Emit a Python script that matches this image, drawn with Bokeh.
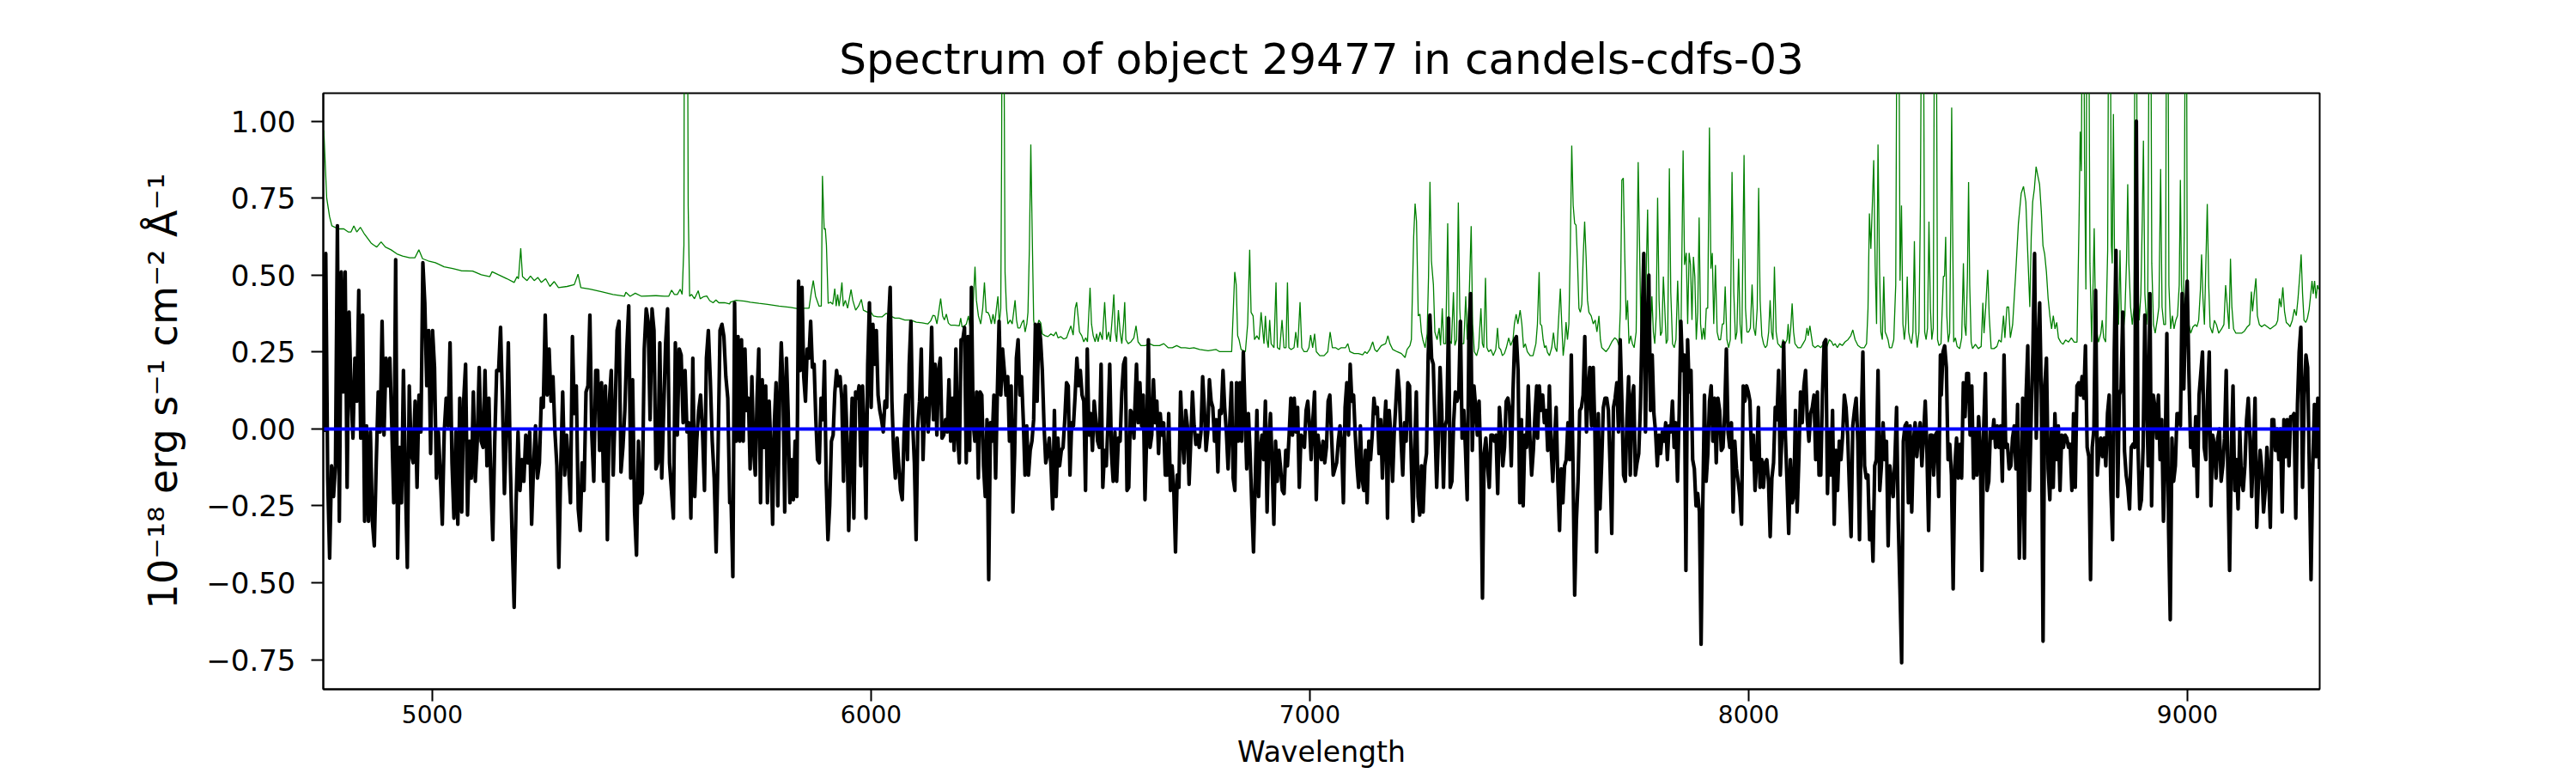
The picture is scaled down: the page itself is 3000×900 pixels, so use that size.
import numpy as np
from bokeh.plotting import figure
from bokeh.models import Range1d, FixedTicker, CustomJSTickFormatter
from bokeh.embed import file_html
from bokeh.resources import INLINE

TITLE = "Spectrum of object 29477 in candels-cdfs-03"
X_LABEL = "Wavelength"
Y_LABEL = "10\u207b\u00b9\u2078 erg s\u207b\u00b9 cm\u207b\u00b2 \u00c5\u207b\u00b9"
X_TICKS = [5000, 6000, 7000, 8000, 9000]
Y_TICKS = [-0.75, -0.5, -0.25, 0.0, 0.25, 0.5, 0.75, 1.0]
X_LIMITS = (4751.5, 9301.4)
Y_LIMITS = (-0.846, 1.091)

# Object flux (black), read in five consecutive wavelength stretches
SEG_A = (4752.7, 5677.8)
FLUX_A = [-0.01, 0.57, -0.16, -0.42, -0.12, -0.22, -0.12, 0.66, -0.30, 0.51, 0.12, 0.51, -0.19, 0.38, 0.12, -0.03, 0.23, 0.09, 0.45, -0.03,
          0.37, -0.30, 0.01, -0.30, -0.01, -0.30, -0.38, -0.11, 0.12, -0.01, 0.35, -0.02, 0.23, 0.14, 0.23, 0.01, -0.24, 0.55, -0.42, -0.06,
          -0.24, 0.19, -0.16, -0.45, 0.14, -0.08, -0.11, 0.09, -0.19, 0.11, -0.01, 0.54, 0.41, 0.14, 0.32, -0.08, 0.32, 0.20, -0.16, -0.01,
          -0.15, -0.31, -0.01, 0.10, 0.01, 0.28, -0.11, -0.29, -0.01, -0.31, 0.10, -0.27, 0.09, 0.21, -0.28, -0.04, -0.16, 0.12, -0.17, -0.04,
          0.20, -0.04, -0.06, 0.19, -0.12, 0.10, -0.17, -0.36, -0.04, 0.19, 0.19, 0.33, 0.09, -0.21, -0.01, 0.28, -0.11, -0.36, -0.58, -0.24,
          -0.01, -0.20, -0.10, -0.17, -0.02, -0.11, -0.01, -0.31, -0.12, 0.01, -0.16, -0.11, 0.10, 0.07, 0.37, 0.11, 0.26, 0.09, 0.17, -0.01,
          -0.12, -0.45, -0.12, 0.12, -0.15, -0.02, -0.12, -0.24, 0.30, 0.05, 0.14, -0.26, -0.33, -0.11, -0.20, 0.12, 0.14, 0.37, -0.02, -0.17,
          0.19, 0.19, -0.07, 0.15, -0.17, 0.14, -0.36, 0.09, 0.19, -0.15, 0.06, 0.32, 0.35, -0.14, -0.06, 0.06, 0.26, 0.40, -0.16, 0.16,
          -0.27, -0.41, -0.04, -0.24, -0.21, 0.26, 0.39, 0.35, 0.03, 0.39, 0.32, -0.13, -0.11, 0.28, -0.16, 0.06, 0.28, 0.39, -0.11, -0.20,
          -0.29, 0.28, -0.02, 0.26, 0.24, 0.02, 0.19, -0.01, 0.02, -0.29, 0.23, -0.22, -0.04, 0.06, 0.11, -0.01, -0.20, 0.23, 0.32, 0.16,
          -0.04, -0.16, -0.40, -0.07, 0.32, 0.34, 0.30, 0.17, 0.10, -0.24]
SEG_B = (5681.0, 6599.0)
FLUX_B = [-0.24, -0.48, 0.41, -0.04, 0.30, -0.04, 0.29, -0.04, 0.26, 0.06, 0.10, -0.13, 0.17, -0.07, -0.15, 0.10, 0.26, -0.24, 0.16, -0.06,
          0.14, -0.24, 0.09, -0.07, -0.31, 0.02, 0.15, -0.25, 0.09, 0.28, 0.14, -0.27, 0.23, 0.05, -0.24, -0.10, -0.23, -0.04, -0.22, 0.48,
          0.19, 0.46, 0.17, 0.09, 0.26, 0.23, 0.35, 0.20, 0.21, 0.03, -0.10, -0.11, 0.10, 0.03, 0.22, -0.17, -0.36, -0.25, -0.04, -0.02,
          0.12, 0.19, 0.14, 0.17, 0.10, -0.17, 0.14, -0.02, -0.33, -0.08, 0.10, -0.29, 0.12, 0.10, 0.14, -0.12, 0.14, -0.01, -0.29, 0.21,
          0.41, 0.07, 0.34, 0.21, 0.32, 0.11, 0.06, 0.03, -0.01, 0.09, 0.07, 0.34, 0.46, 0.09, -0.07, -0.16, -0.03, -0.12, -0.20, -0.23,
          -0.02, 0.11, -0.10, 0.21, 0.35, 0.02, -0.11, -0.36, 0.01, 0.09, 0.26, -0.10, 0.09, 0.10, -0.01, 0.11, 0.33, 0.03, 0.21, -0.02,
          0.19, 0.23, -0.03, -0.02, 0.03, -0.01, 0.16, -0.04, 0.10, -0.07, 0.26, -0.02, -0.11, 0.29, 0.29, 0.33, -0.11, 0.30, -0.07, 0.46,
          0.02, -0.04, 0.12, -0.16, 0.12, 0.11, -0.12, -0.22, 0.03, -0.49, 0.02, -0.04, 0.11, -0.16, 0.12, 0.35, 0.11, 0.26, 0.19, 0.11,
          0.17, -0.04, 0.14, -0.27, -0.08, 0.23, 0.29, 0.11, 0.17, 0.03, -0.15, 0.01, -0.15, -0.07, -0.04, 0.03, 0.34, 0.09, 0.34, 0.29,
          0.19, 0.01, -0.11, -0.08, -0.03, -0.12, -0.26, 0.06, -0.22, -0.03, -0.12, -0.07, -0.06, 0.03, 0.15, 0.14, -0.15, 0.02, 0.01, 0.11,
          0.23, 0.14, 0.19, 0.11, 0.09, -0.20, 0.26, -0.02, 0.05, -0.07, 0.09, 0.03, -0.04, -0.06, 0.21, -0.19, -0.07, -0.12, 0.02, 0.21,
          -0.08, -0.17, -0.01, -0.17, -0.03, -0.04, 0.12, 0.21, 0.23, -0.20, -0.19, 0.06, 0.05, -0.03]
SEG_C = (6601.0, 7517.0)
FLUX_C = [0.06, 0.21, 0.02, 0.15, 0.01, 0.11, -0.23, -0.02, 0.29, -0.06, -0.02, 0.16, 0.02, 0.09, -0.08, 0.05, -0.02, 0.02, -0.15, -0.15,
          0.05, -0.20, -0.12, -0.20, -0.40, -0.15, -0.19, 0.12, -0.02, -0.11, 0.06, 0.01, -0.18, -0.04, 0.12, 0.01, -0.05, -0.02, -0.06, -0.01,
          0.17, 0.07, -0.07, -0.01, 0.16, 0.09, 0.07, -0.04, 0.03, -0.14, 0.06, 0.05, 0.19, 0.07, -0.01, -0.13, 0.02, 0.15, -0.16, -0.20,
          0.15, -0.04, 0.15, -0.04, 0.25, 0.05, -0.13, 0.05, -0.08, -0.25, -0.40, -0.17, 0.06, -0.22, -0.07, -0.02, -0.10, 0.09, -0.27, -0.04,
          0.05, -0.12, -0.31, -0.04, -0.17, -0.07, -0.13, -0.20, -0.21, -0.07, -0.12, -0.02, 0.10, -0.02, 0.10, -0.01, 0.07, -0.19, -0.02, -0.03,
          -0.06, 0.06, 0.09, 0.01, -0.10, 0.03, 0.12, -0.23, -0.02, -0.07, -0.10, -0.04, -0.11, -0.06, 0.09, 0.11, -0.02, -0.15, -0.13, -0.11,
          -0.04, 0.01, -0.06, -0.24, 0.07, 0.15, -0.02, 0.21, 0.09, 0.11, -0.02, -0.12, -0.19, 0.01, -0.16, -0.20, -0.07, -0.24, -0.04, -0.10,
          -0.02, 0.10, 0.05, 0.07, -0.08, 0.03, -0.16, -0.01, 0.09, -0.29, 0.06, -0.02, -0.17, -0.01, 0.09, 0.19, 0.12, -0.04, -0.15, 0.02,
          -0.04, 0.15, 0.14, -0.10, -0.30, -0.07, 0.12, -0.22, -0.28, -0.12, -0.27, -0.12, -0.08, 0.24, 0.37, 0.23, 0.21, 0.01, -0.19, -0.03,
          0.20, 0.06, -0.19, 0.01, 0.03, 0.36, -0.19, -0.17, 0.02, 0.12, 0.09, 0.11, 0.35, -0.03, 0.06, -0.07, -0.23, 0.29, 0.44, -0.07,
          0.14, 0.07, -0.02, 0.09, -0.10, -0.55, -0.08, -0.03, -0.12, -0.19, -0.02, -0.02, -0.04, -0.02, -0.21, 0.07, -0.01, -0.12, -0.06, 0.09,
          0.10, 0.06, -0.12, 0.12, 0.29, 0.30, 0.19, -0.24, 0.03, -0.25, -0.02, -0.06, 0.14, -0.03, -0.15, -0.07, 0.05, 0.14]
SEG_D = (7519.0, 8437.0)
FLUX_D = [-0.03, 0.14, 0.06, 0.11, 0.02, 0.06, -0.07, 0.14, -0.06, -0.17, -0.04, 0.07, -0.17, -0.33, -0.13, -0.24, -0.12, -0.10, 0.02, -0.10,
          0.24, -0.12, -0.54, -0.30, -0.17, 0.06, 0.07, 0.11, 0.30, -0.01, 0.12, 0.20, 0.01, 0.20, -0.01, -0.40, 0.05, -0.26, -0.11, 0.07,
          0.10, 0.10, 0.06, -0.12, -0.34, 0.07, 0.10, 0.15, -0.01, 0.29, 0.09, -0.15, -0.17, 0.03, 0.17, -0.15, 0.10, 0.14, -0.15, -0.11,
          -0.08, 0.07, 0.34, 0.57, -0.01, 0.34, 0.50, 0.06, 0.24, 0.05, -0.01, -0.12, -0.02, -0.08, -0.01, -0.04, 0.02, -0.10, 0.01, -0.01,
          0.09, -0.06, 0.02, -0.17, 0.05, 0.35, 0.19, 0.24, -0.46, 0.29, 0.12, 0.19, -0.10, -0.13, -0.25, -0.21, -0.27, -0.70, -0.25, 0.11,
          -0.17, -0.08, 0.09, 0.14, -0.04, 0.10, -0.11, 0.10, 0.06, -0.07, -0.06, 0.05, 0.26, -0.01, -0.06, 0.02, -0.27, -0.04, -0.13, -0.17,
          -0.22, -0.31, 0.14, 0.09, 0.14, 0.12, 0.09, -0.10, -0.02, -0.20, -0.11, 0.07, -0.19, -0.10, -0.19, -0.11, -0.10, -0.17, -0.35, -0.16,
          -0.11, 0.07, 0.03, 0.19, -0.15, -0.02, 0.28, -0.02, -0.17, -0.34, -0.10, -0.24, -0.22, 0.06, -0.27, -0.10, 0.12, 0.02, 0.14, 0.19,
          0.03, -0.04, 0.05, 0.07, 0.11, -0.10, 0.12, -0.15, -0.15, 0.11, 0.28, 0.29, -0.21, -0.01, -0.15, 0.06, -0.31, -0.07, -0.20, -0.04,
          -0.10, -0.02, 0.11, 0.07, -0.02, -0.19, -0.35, 0.01, 0.06, 0.10, -0.04, -0.36, 0.01, 0.25, -0.12, -0.16, -0.15, -0.36, -0.27, -0.43,
          -0.12, -0.10, 0.19, -0.20, -0.12, 0.02, -0.10, -0.04, -0.38, -0.12, -0.17, -0.22, -0.10, 0.07, -0.30, -0.52, -0.76, -0.04, 0.01, 0.02,
          -0.24, 0.01, -0.27, -0.04, 0.02, -0.09, -0.02, 0.02, -0.12, -0.02, 0.09, -0.07, -0.33, -0.02, -0.02, -0.15, -0.02, -0.01, -0.22, 0.24]
SEG_E = (8439.0, 9301.0)
FLUX_E = [0.11, 0.25, 0.27, 0.20, -0.10, -0.05, -0.15, -0.52, -0.12, -0.03, -0.16, -0.05, -0.16, 0.15, 0.04, 0.18, 0.18, -0.02, 0.14, -0.16,
          0.00, -0.15, 0.04, -0.06, -0.46, 0.00, 0.18, -0.20, -0.17, 0.00, -0.03, 0.03, -0.06, 0.01, -0.06, 0.01, -0.17, 0.24, -0.06, -0.05,
          -0.13, -0.12, -0.03, 0.01, -0.13, 0.08, -0.42, -0.19, 0.10, -0.42, 0.11, 0.27, -0.20, 0.04, 0.25, 0.57, -0.03, 0.23, 0.41, 0.11,
          -0.69, 0.14, 0.23, -0.13, -0.23, 0.00, -0.19, 0.05, -0.10, 0.01, -0.20, -0.02, -0.06, -0.02, -0.03, -0.06, -0.05, -0.20, 0.05, -0.19,
          0.14, 0.15, 0.11, 0.17, 0.10, 0.27, -0.06, -0.09, -0.49, -0.06, 0.00, 0.45, -0.15, -0.07, -0.03, -0.09, -0.03, -0.12, 0.05, 0.11,
          -0.20, -0.36, 0.25, 0.58, -0.22, 0.11, 0.13, 0.38, -0.07, -0.15, -0.19, -0.26, -0.06, -0.05, -0.06, 1.00, -0.06, -0.26, -0.23, -0.06,
          0.37, 0.11, -0.12, 0.44, -0.25, 0.11, 0.07, -0.03, 0.11, -0.10, 0.03, -0.30, -0.09, 0.31, -0.32, -0.62, -0.03, -0.17, -0.12, 0.05,
          0.05, 0.01, 0.44, 0.13, 0.38, 0.48, 0.18, -0.06, 0.00, -0.12, 0.04, -0.22, 0.11, 0.18, 0.25, -0.06, -0.10, 0.11, 0.25, -0.25,
          -0.02, -0.05, -0.16, -0.03, 0.00, -0.17, -0.12, -0.03, 0.19, -0.16, -0.46, -0.07, 0.14, -0.20, -0.10, -0.26, 0.00, -0.17, -0.20, -0.12,
          0.03, 0.10, -0.03, -0.22, -0.07, 0.10, -0.32, -0.17, -0.07, -0.13, -0.27, -0.20, -0.06, -0.15, -0.32, 0.03, 0.03, -0.07, 0.00, -0.10,
          0.00, -0.27, 0.03, -0.09, 0.03, -0.12, 0.04, 0.04, 0.05, -0.29, 0.08, 0.25, 0.33, -0.19, 0.11, 0.24, 0.20, -0.13, -0.49, -0.13,
          0.08, -0.09, 0.10, -0.13]

# Noise / sky spectrum (green): (wavelength, value) vertices; 1.6 = line running off the top
NOISE_A = [(4752.7, 0.97), (4759.3, 0.75), (4765.8, 0.69), (4771.0, 0.66), (4785.4, 0.65), (4798.4, 0.65), (4808.2, 0.64),
           (4814.7, 0.64), (4821.2, 0.66), (4827.8, 0.64), (4836.2, 0.655), (4844.1, 0.636), (4853.9, 0.617), (4860.4, 0.604),
           (4866.9, 0.597), (4873.4, 0.591), (4883.2, 0.608), (4893.0, 0.591), (4906.0, 0.582), (4919.1, 0.569), (4932.1, 0.562),
           (4948.4, 0.556), (4960.2, 0.556), (4969.3, 0.582), (4977.8, 0.553), (4990.8, 0.546), (5007.1, 0.540), (5026.7, 0.527),
           (5046.3, 0.521), (5065.9, 0.514), (5091.9, 0.513), (5111.5, 0.501), (5131.1, 0.495), (5136.3, 0.511), (5150.7, 0.501),
           (5170.2, 0.488), (5186.5, 0.476), (5193.1, 0.495), (5196.3, 0.488), (5201.5, 0.587), (5205.5, 0.495), (5215.9, 0.482),
           (5223.7, 0.497), (5232.2, 0.482), (5240.7, 0.492), (5248.5, 0.476), (5258.3, 0.488), (5268.1, 0.463), (5277.8, 0.479),
           (5287.6, 0.459), (5307.2, 0.463), (5323.5, 0.469), (5332.0, 0.503), (5338.5, 0.459), (5359.4, 0.454), (5385.5, 0.446),
           (5411.6, 0.437), (5437.7, 0.431), (5441.0, 0.444), (5450.7, 0.431), (5462.5, 0.441), (5476.8, 0.431), (5509.4, 0.433),
           (5529.0, 0.431), (5538.8, 0.431), (5545.3, 0.451), (5551.8, 0.437), (5558.4, 0.437), (5564.9, 0.454), (5569.4, 0.437),
           (5573.4, 0.597), (5574.6, 1.6), (5577.9, 1.6), (5581.2, 1.6), (5583.1, 0.726), (5586.4, 0.431), (5590.9, 0.437),
           (5597.5, 0.423), (5606.0, 0.449), (5610.5, 0.423), (5617.1, 0.429), (5625.5, 0.432), (5632.1, 0.417), (5639.9, 0.410),
           (5646.4, 0.419), (5653.0, 0.410), (5666.0, 0.410), (5677.7, 0.406)]
NOISE_B = [(5679.1, 0.412), (5692.1, 0.418), (5711.7, 0.415), (5724.7, 0.412), (5744.3, 0.408), (5763.9, 0.405), (5790.0, 0.399),
           (5816.1, 0.395), (5835.6, 0.390), (5848.7, 0.392), (5858.5, 0.392), (5863.7, 0.444), (5868.2, 0.482), (5873.5, 0.431),
           (5881.3, 0.399), (5886.5, 0.399), (5889.1, 0.822), (5893.0, 0.649), (5895.6, 0.651), (5898.2, 0.597), (5902.2, 0.408),
           (5907.4, 0.412), (5912.6, 0.405), (5917.2, 0.456), (5920.4, 0.399), (5923.7, 0.437), (5927.0, 0.399), (5930.2, 0.431),
           (5933.5, 0.476), (5936.7, 0.399), (5941.3, 0.418), (5946.5, 0.392), (5954.3, 0.453), (5958.3, 0.418), (5964.8, 0.386),
           (5971.3, 0.399), (5977.8, 0.421), (5982.4, 0.386), (5992.2, 0.379), (5998.7, 0.382), (6005.2, 0.367), (6015.0, 0.364),
           (6024.8, 0.364), (6034.6, 0.376), (6044.4, 0.367), (6054.1, 0.360), (6063.9, 0.360), (6077.0, 0.354), (6090.0, 0.354),
           (6103.1, 0.347), (6116.1, 0.345), (6129.2, 0.341), (6135.7, 0.351), (6140.9, 0.369), (6145.5, 0.367), (6150.0, 0.341),
           (6154.0, 0.379), (6158.5, 0.424), (6163.1, 0.367), (6167.0, 0.354), (6171.5, 0.373), (6176.1, 0.344), (6181.3, 0.337),
           (6191.1, 0.337), (6200.9, 0.335), (6204.2, 0.360), (6207.4, 0.331), (6212.7, 0.335), (6217.2, 0.341), (6221.8, 0.367),
           (6225.7, 0.328), (6230.3, 0.347), (6233.5, 0.431), (6236.8, 0.527), (6240.0, 0.418), (6244.6, 0.367), (6249.8, 0.341),
           (6254.4, 0.392), (6258.3, 0.476), (6262.2, 0.379), (6266.1, 0.379), (6270.1, 0.367), (6274.0, 0.341), (6277.9, 0.373),
           (6281.8, 0.341), (6285.7, 0.392), (6289.0, 0.431), (6292.2, 0.341), (6295.5, 0.392), (6297.5, 0.9), (6298.8, 1.6),
           (6302.0, 1.6), (6304.0, 0.9), (6305.3, 0.508), (6308.5, 0.392), (6311.8, 0.341), (6317.0, 0.354), (6321.6, 0.341),
           (6324.8, 0.379), (6328.1, 0.418), (6331.4, 0.354), (6334.6, 0.328), (6339.2, 0.328), (6344.4, 0.347), (6347.7, 0.354),
           (6350.9, 0.315), (6354.9, 0.341), (6357.5, 0.379), (6360.7, 0.585), (6364.0, 0.924), (6367.3, 0.623), (6370.5, 0.354),
           (6373.8, 0.315), (6377.0, 0.322), (6382.3, 0.354), (6386.8, 0.344), (6390.1, 0.309), (6396.6, 0.303), (6403.1, 0.300),
           (6409.7, 0.309), (6416.2, 0.303), (6421.4, 0.315), (6426.0, 0.296), (6432.5, 0.300), (6439.0, 0.292), (6445.5, 0.296),
           (6450.1, 0.315), (6455.3, 0.335), (6460.5, 0.305), (6465.1, 0.392), (6468.4, 0.412), (6471.6, 0.367), (6474.9, 0.315),
           (6480.1, 0.303), (6484.7, 0.283), (6489.2, 0.296), (6493.1, 0.283), (6499.0, 0.459), (6502.3, 0.341), (6506.2, 0.303),
           (6510.7, 0.283), (6514.0, 0.309), (6517.3, 0.283), (6521.8, 0.315), (6527.1, 0.290), (6532.3, 0.412), (6536.8, 0.290),
           (6541.4, 0.315), (6545.3, 0.283), (6549.2, 0.354), (6553.2, 0.437), (6556.4, 0.315), (6559.7, 0.283), (6563.6, 0.386),
           (6567.5, 0.315), (6571.4, 0.277), (6575.3, 0.341), (6578.0, 0.412), (6580.6, 0.290), (6585.8, 0.277), (6592.3, 0.283),
           (6598.8, 0.296)]
NOISE_C = [(6603.8, 0.335), (6608.4, 0.283), (6614.9, 0.271), (6624.7, 0.271), (6634.4, 0.277), (6644.2, 0.271), (6657.3, 0.271),
           (6667.1, 0.277), (6676.8, 0.264), (6686.6, 0.264), (6696.4, 0.271), (6706.2, 0.264), (6716.0, 0.264), (6725.8, 0.262),
           (6735.6, 0.264), (6748.6, 0.258), (6768.2, 0.254), (6786.4, 0.258), (6794.3, 0.251), (6821.7, 0.251), (6825.6, 0.392),
           (6828.8, 0.510), (6832.1, 0.469), (6835.4, 0.303), (6838.6, 0.290), (6843.2, 0.258), (6853.0, 0.251), (6858.2, 0.341),
           (6862.8, 0.582), (6866.0, 0.379), (6870.6, 0.367), (6873.8, 0.290), (6879.1, 0.303), (6884.3, 0.290), (6888.8, 0.379),
           (6892.1, 0.328), (6895.4, 0.277), (6898.6, 0.367), (6901.9, 0.290), (6905.2, 0.264), (6908.4, 0.354), (6911.7, 0.277),
           (6918.2, 0.264), (6922.8, 0.476), (6926.0, 0.264), (6931.2, 0.258), (6936.5, 0.354), (6941.0, 0.264), (6945.6, 0.264),
           (6948.9, 0.476), (6952.1, 0.264), (6957.3, 0.258), (6963.9, 0.264), (6967.8, 0.315), (6972.3, 0.264), (6977.6, 0.412),
           (6981.5, 0.264), (6986.7, 0.251), (6993.2, 0.251), (6997.8, 0.264), (7001.7, 0.305), (7006.3, 0.264), (7010.8, 0.309),
           (7014.7, 0.251), (7022.6, 0.238), (7032.3, 0.238), (7040.8, 0.251), (7046.1, 0.315), (7051.3, 0.264), (7058.4, 0.264),
           (7065.0, 0.258), (7071.5, 0.264), (7081.3, 0.264), (7086.5, 0.277), (7091.1, 0.251), (7100.8, 0.245), (7110.6, 0.245),
           (7120.4, 0.241), (7125.6, 0.251), (7130.2, 0.245), (7136.7, 0.258), (7143.2, 0.283), (7147.8, 0.258), (7153.0, 0.251),
           (7162.8, 0.271), (7172.6, 0.277), (7177.8, 0.303), (7182.4, 0.277), (7188.9, 0.258), (7198.7, 0.251), (7208.5, 0.245),
           (7216.9, 0.232), (7221.5, 0.258), (7228.0, 0.271), (7231.3, 0.290), (7236.5, 0.623), (7239.8, 0.732), (7243.0, 0.674),
           (7247.0, 0.367), (7250.9, 0.373), (7254.1, 0.315), (7257.4, 0.290), (7262.6, 0.264), (7267.2, 0.309), (7270.4, 0.495),
           (7273.7, 0.803), (7277.0, 0.546), (7281.5, 0.469), (7284.8, 0.315), (7290.0, 0.290), (7294.6, 0.328), (7297.8, 0.271),
           (7301.7, 0.392), (7305.0, 0.277), (7309.6, 0.277), (7314.1, 0.668), (7317.4, 0.290), (7322.6, 0.277), (7327.2, 0.444),
           (7330.4, 0.271), (7334.4, 0.290), (7338.3, 0.736), (7341.6, 0.392), (7345.5, 0.277), (7350.7, 0.277), (7355.2, 0.431),
           (7358.5, 0.290), (7363.1, 0.431), (7367.6, 0.659), (7370.9, 0.341), (7374.8, 0.251), (7380.0, 0.238), (7384.6, 0.264),
           (7389.8, 0.392), (7393.1, 0.277), (7396.3, 0.264), (7400.2, 0.491), (7403.5, 0.264), (7407.4, 0.251), (7412.6, 0.258),
           (7417.9, 0.238), (7423.7, 0.258), (7427.6, 0.328), (7430.9, 0.264), (7434.8, 0.258), (7438.7, 0.238), (7443.3, 0.245),
           (7447.8, 0.264), (7453.1, 0.296), (7457.7, 0.271), (7462.9, 0.290), (7466.1, 0.341), (7470.1, 0.373), (7474.0, 0.341),
           (7479.2, 0.386), (7483.1, 0.341), (7487.0, 0.264), (7491.0, 0.277), (7495.5, 0.251), (7502.0, 0.238), (7508.5, 0.238),
           (7515.1, 0.277)]
NOISE_D = [(7518.6, 0.341), (7522.5, 0.510), (7525.1, 0.341), (7528.4, 0.335), (7531.6, 0.290), (7534.9, 0.264), (7538.1, 0.271),
           (7541.4, 0.249), (7546.0, 0.238), (7551.2, 0.264), (7555.1, 0.313), (7559.0, 0.264), (7562.9, 0.251), (7566.8, 0.354),
           (7570.8, 0.456), (7574.0, 0.341), (7577.3, 0.238), (7581.2, 0.290), (7583.8, 0.347), (7587.1, 0.290), (7590.3, 0.341),
           (7593.6, 0.597), (7596.8, 0.921), (7600.1, 0.726), (7603.4, 0.668), (7606.6, 0.662), (7609.9, 0.546), (7613.2, 0.392),
           (7616.4, 0.379), (7619.7, 0.405), (7622.9, 0.559), (7626.2, 0.674), (7629.5, 0.559), (7632.7, 0.418), (7636.0, 0.379),
           (7641.2, 0.367), (7645.8, 0.341), (7650.3, 0.354), (7654.2, 0.315), (7658.8, 0.367), (7662.1, 0.290), (7665.3, 0.264),
           (7669.9, 0.258), (7675.1, 0.251), (7681.6, 0.264), (7688.2, 0.283), (7694.7, 0.296), (7699.9, 0.290), (7704.5, 0.271),
           (7707.7, 0.392), (7711.0, 0.809), (7714.3, 0.815), (7717.5, 0.572), (7720.8, 0.354), (7724.0, 0.418), (7727.3, 0.277),
           (7731.2, 0.303), (7735.1, 0.277), (7739.0, 0.264), (7743.6, 0.315), (7748.2, 0.867), (7751.4, 0.597), (7754.7, 0.290),
           (7758.0, 0.315), (7761.2, 0.277), (7764.5, 0.367), (7769.7, 0.713), (7773.0, 0.392), (7776.2, 0.315), (7779.5, 0.431),
           (7782.8, 0.315), (7786.0, 0.277), (7789.3, 0.367), (7792.5, 0.751), (7795.8, 0.418), (7799.1, 0.303), (7802.3, 0.315),
           (7805.6, 0.495), (7808.8, 0.392), (7812.1, 0.277), (7815.4, 0.290), (7819.3, 0.847), (7822.5, 0.444), (7826.5, 0.277),
           (7830.4, 0.264), (7834.3, 0.290), (7838.2, 0.482), (7842.1, 0.303), (7846.0, 0.341), (7850.6, 0.905), (7853.9, 0.533),
           (7857.8, 0.572), (7861.0, 0.341), (7864.3, 0.572), (7867.5, 0.533), (7870.8, 0.354), (7874.1, 0.559), (7877.3, 0.495),
           (7880.6, 0.290), (7883.9, 0.379), (7887.1, 0.687), (7890.4, 0.341), (7893.6, 0.290), (7896.9, 0.328), (7900.2, 0.290),
           (7903.4, 0.392), (7906.7, 0.392), (7910.6, 0.979), (7913.9, 0.521), (7917.1, 0.572), (7920.4, 0.341), (7924.3, 0.533),
           (7928.2, 0.315), (7932.1, 0.290), (7936.0, 0.290), (7940.0, 0.341), (7943.2, 0.341), (7946.5, 0.463), (7950.4, 0.290),
           (7954.3, 0.264), (7958.2, 0.290), (7962.1, 0.835), (7966.1, 0.444), (7970.0, 0.290), (7973.2, 0.315), (7977.1, 0.553),
           (7980.4, 0.341), (7984.3, 0.277), (7989.5, 0.890), (7992.8, 0.392), (7996.1, 0.315), (8000.0, 0.315), (8003.9, 0.328),
           (8007.8, 0.469), (8011.7, 0.328), (8015.6, 0.303), (8019.5, 0.392), (8022.8, 0.783), (8026.1, 0.418), (8030.0, 0.303),
           (8033.9, 0.277), (8037.8, 0.264), (8041.7, 0.271), (8045.6, 0.315), (8048.9, 0.418), (8052.2, 0.315), (8055.4, 0.290),
           (8058.7, 0.527), (8062.6, 0.315), (8066.5, 0.277), (8070.4, 0.271), (8074.3, 0.264), (8078.2, 0.290), (8082.8, 0.277),
           (8087.4, 0.290), (8090.0, 0.341), (8092.6, 0.277), (8095.9, 0.328), (8099.1, 0.408), (8102.4, 0.315), (8105.6, 0.277),
           (8112.2, 0.264), (8118.7, 0.264), (8123.9, 0.277), (8129.1, 0.290), (8133.0, 0.328), (8135.6, 0.303), (8139.6, 0.335),
           (8142.8, 0.303), (8146.1, 0.271), (8151.3, 0.264), (8157.8, 0.271), (8164.3, 0.264), (8170.9, 0.277), (8177.4, 0.264),
           (8183.9, 0.290), (8189.1, 0.283), (8193.0, 0.271), (8197.0, 0.277), (8202.2, 0.264), (8207.4, 0.277), (8213.3, 0.271),
           (8219.8, 0.283), (8226.3, 0.290), (8232.8, 0.303), (8237.4, 0.322), (8242.6, 0.290), (8249.1, 0.271), (8255.7, 0.264),
           (8263.5, 0.264), (8268.7, 0.277), (8272.0, 0.392), (8275.2, 0.700), (8278.5, 0.585), (8281.8, 0.726), (8285.0, 0.873),
           (8288.3, 0.533), (8291.5, 0.341), (8294.8, 0.924), (8298.1, 0.533), (8301.3, 0.315), (8304.6, 0.290), (8307.9, 0.495),
           (8311.1, 0.315), (8314.4, 0.303), (8317.6, 0.290), (8320.9, 0.264), (8326.1, 0.264), (8330.7, 0.290), (8335.2, 0.469),
           (8338.5, 1.6), (8341.8, 1.6), (8345.0, 0.482), (8348.3, 0.726), (8351.6, 0.341), (8354.8, 0.290), (8358.1, 0.341),
           (8361.4, 0.495), (8364.6, 0.315), (8367.9, 0.290), (8371.1, 0.277), (8374.4, 0.315), (8377.7, 0.610), (8380.9, 0.315),
           (8384.2, 0.264), (8388.1, 0.315), (8391.4, 0.726), (8394.6, 1.6), (8397.9, 1.6), (8401.2, 0.315), (8404.4, 0.290),
           (8407.7, 0.328), (8410.9, 0.674), (8414.2, 0.392), (8417.4, 0.290), (8420.7, 0.328), (8424.0, 1.6), (8427.2, 1.6),
           (8430.5, 0.290), (8433.7, 0.271), (8438.3, 0.277)]
NOISE_E = [(8443.8, 0.496), (8446.4, 0.496), (8449.0, 0.624), (8451.6, 0.368), (8454.9, 0.282), (8458.1, 0.311), (8460.7, 0.681),
           (8462.7, 1.044), (8464.7, 0.681), (8467.3, 0.282), (8471.2, 0.296), (8475.1, 0.268), (8481.0, 0.261), (8485.5, 0.296),
           (8489.4, 0.538), (8492.1, 0.339), (8495.3, 0.303), (8498.6, 0.496), (8501.2, 0.802), (8503.8, 0.467), (8507.1, 0.282),
           (8510.3, 0.261), (8516.8, 0.275), (8523.4, 0.261), (8529.9, 0.268), (8533.8, 0.410), (8536.4, 0.311), (8540.3, 0.396),
           (8544.9, 0.517), (8548.2, 0.368), (8552.7, 0.261), (8559.2, 0.261), (8565.8, 0.268), (8570.3, 0.289), (8575.6, 0.282),
           (8580.8, 0.368), (8584.0, 0.296), (8588.6, 0.396), (8592.5, 0.396), (8596.4, 0.296), (8601.6, 0.339), (8608.2, 0.496),
           (8614.7, 0.667), (8621.2, 0.766), (8626.4, 0.788), (8631.7, 0.738), (8636.2, 0.567), (8640.8, 0.396), (8644.0, 0.624),
           (8647.3, 0.738), (8651.2, 0.781), (8655.1, 0.852), (8659.0, 0.823), (8663.0, 0.795), (8666.9, 0.709), (8670.8, 0.595),
           (8674.7, 0.567), (8678.6, 0.510), (8682.5, 0.424), (8686.4, 0.368), (8690.4, 0.325), (8694.3, 0.368), (8698.2, 0.325),
           (8702.1, 0.346), (8706.0, 0.296), (8711.2, 0.282), (8716.4, 0.275), (8722.3, 0.289), (8728.8, 0.282), (8735.4, 0.296),
           (8741.9, 0.282), (8748.4, 0.282), (8753.0, 0.681), (8755.6, 0.966), (8758.2, 0.838), (8760.8, 1.6), (8763.4, 1.6),
           (8765.4, 0.880), (8768.6, 0.453), (8771.2, 1.6), (8774.5, 1.6), (8777.8, 0.538), (8781.7, 0.282), (8784.9, 0.467),
           (8787.5, 0.652), (8790.8, 0.339), (8797.3, 0.282), (8802.6, 0.311), (8805.8, 0.353), (8809.1, 0.296), (8813.6, 0.282),
           (8818.2, 0.581), (8820.8, 1.6), (8823.4, 1.6), (8826.7, 0.595), (8828.6, 0.538), (8831.3, 1.023), (8833.9, 0.538),
           (8836.5, 0.368), (8839.7, 0.439), (8843.0, 0.339), (8846.3, 0.581), (8849.5, 0.339), (8853.4, 0.311), (8857.3, 0.368),
           (8861.3, 0.553), (8863.9, 0.795), (8866.5, 0.538), (8870.4, 0.396), (8874.3, 0.339), (8878.2, 0.396), (8880.8, 1.6),
           (8883.4, 1.6), (8886.1, 0.481), (8890.0, 0.353), (8893.9, 0.439), (8897.1, 0.681), (8899.7, 0.937), (8903.0, 0.439),
           (8906.9, 0.339), (8909.5, 0.396), (8913.4, 1.6), (8916.1, 1.6), (8918.7, 0.538), (8922.6, 0.339), (8926.5, 0.311),
           (8931.1, 0.353), (8935.0, 0.396), (8938.9, 0.845), (8942.1, 0.396), (8946.1, 0.339), (8950.0, 0.339), (8952.6, 1.6),
           (8955.2, 1.6), (8957.8, 0.467), (8961.7, 0.325), (8965.6, 0.368), (8969.5, 0.325), (8973.5, 0.353), (8977.4, 0.368),
           (8981.3, 0.467), (8983.9, 0.809), (8986.5, 0.467), (8990.4, 0.339), (8993.0, 0.681), (8995.6, 1.6), (8997.6, 1.6),
           (8999.5, 0.467), (9003.5, 0.339), (9007.4, 0.311), (9012.6, 0.332), (9017.8, 0.339), (9021.7, 0.332), (9025.6, 0.353),
           (9029.6, 0.453), (9032.2, 0.567), (9035.4, 0.424), (9038.7, 0.339), (9042.0, 0.538), (9045.2, 0.731), (9048.5, 0.467),
           (9051.7, 0.332), (9057.0, 0.311), (9061.5, 0.353), (9066.1, 0.339), (9071.3, 0.311), (9077.8, 0.325), (9083.1, 0.339),
           (9087.0, 0.467), (9090.9, 0.396), (9094.8, 0.325), (9098.1, 0.553), (9101.3, 0.396), (9105.2, 0.325), (9110.4, 0.311),
           (9117.0, 0.311), (9123.5, 0.311), (9130.0, 0.318), (9136.5, 0.332), (9141.7, 0.339), (9145.7, 0.446), (9148.3, 0.382),
           (9152.2, 0.439), (9156.1, 0.489), (9159.4, 0.368), (9163.9, 0.339), (9169.1, 0.332), (9175.7, 0.339), (9182.2, 0.332),
           (9188.7, 0.325), (9195.2, 0.332), (9201.8, 0.339), (9205.7, 0.353), (9209.6, 0.424), (9213.5, 0.396), (9217.4, 0.460),
           (9221.3, 0.382), (9225.3, 0.346), (9230.5, 0.339), (9233.7, 0.332), (9239.0, 0.353), (9243.6, 0.389), (9248.1, 0.368),
           (9252.0, 0.424), (9256.6, 0.510), (9259.1, 0.567), (9262.4, 0.439), (9265.7, 0.353), (9269.6, 0.346), (9273.5, 0.360),
           (9277.4, 0.389), (9280.0, 0.424), (9283.9, 0.481), (9286.6, 0.439), (9289.8, 0.481), (9293.1, 0.424), (9296.3, 0.467),
           (9299.6, 0.453)]

# Model (blue): flat at zero over the whole range
MODEL_WAVE = [4751.5, 9301.4]
MODEL_FLUX = [0.0, 0.0]

segments = [(SEG_A, FLUX_A), (SEG_B, FLUX_B), (SEG_C, FLUX_C), (SEG_D, FLUX_D), (SEG_E, FLUX_E)]
wave = np.concatenate([np.linspace(a, b, len(f)) for (a, b), f in segments])
flux = np.concatenate([np.asarray(f, dtype=float) for _, f in segments])

noise = NOISE_A + NOISE_B + NOISE_C + NOISE_D + NOISE_E
noise_wave = [w for w, _ in noise]
noise_flux = [v for _, v in noise]

FONT = "DejaVu Sans"

p = figure(width=3000, height=900, output_backend="svg", toolbar_location=None,
           x_range=Range1d(*X_LIMITS), y_range=Range1d(*Y_LIMITS),
           min_border_left=376, min_border_right=299, min_border_top=108, min_border_bottom=98,
           title=TITLE)
p.background_fill_color = "white"
p.border_fill_color = "white"
p.outline_line_color = "black"
p.outline_line_width = 2
p.xgrid.visible = False
p.ygrid.visible = False

p.title.text_font = FONT
p.title.text_font_size = "50px"
p.title.text_font_style = "normal"
p.title.text_color = "black"
p.title.align = "center"
p.title.standoff = 22

xa = p.xaxis[0]
ya = p.yaxis[0]
xa.ticker = FixedTicker(ticks=X_TICKS)
ya.ticker = FixedTicker(ticks=Y_TICKS)
xa.formatter = CustomJSTickFormatter(code="return tick.toFixed(0);")
ya.formatter = CustomJSTickFormatter(code="return (tick < 0 ? '\\u2212' : '') + Math.abs(tick).toFixed(2);")
for ax in (xa, ya):
    ax.axis_line_color = "black"
    ax.axis_line_width = 2
    ax.major_tick_line_color = "black"
    ax.major_tick_line_width = 2
    ax.major_tick_out = 14
    ax.major_tick_in = 0
    ax.minor_tick_out = 0
    ax.minor_tick_in = 0
    ax.major_label_text_font = FONT
    ax.major_label_text_color = "black"
    ax.axis_label_text_font = FONT
    ax.axis_label_text_font_style = "normal"
    ax.axis_label_text_color = "black"

xa.axis_label = X_LABEL
xa.major_label_text_font_size = "28px"
xa.major_label_standoff = 4
xa.axis_label_text_font_size = "33px"
xa.axis_label_standoff = 11

ya.axis_label = Y_LABEL
ya.major_label_text_font_size = "34px"
ya.major_label_standoff = 18
ya.axis_label_text_font_size = "46px"
ya.axis_label_standoff = 20

p.line(noise_wave, noise_flux, line_color="#008000", line_width=1.3)
p.line(wave, flux, line_color="black", line_width=4.2, line_join="round")
p.line(MODEL_WAVE, MODEL_FLUX, line_color="#0000ff", line_width=4)

open("out.html", "w").write(file_html(p, INLINE))
